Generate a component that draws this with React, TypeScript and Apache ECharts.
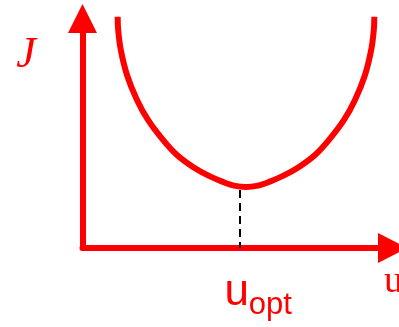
import React, { useEffect, useRef } from "react";
import * as echarts from "echarts";

// Curve J(u) (axis units: u 0..10, J 0..10)
const uValues = [
  1.135, 1.151, 1.235, 1.435, 1.758, 2.113, 2.597, 3.048, 3.564, 4.08, 4.532, 4.887, 5.274,
  5.661, 6.016, 6.468, 6.984, 7.5, 7.951, 8.435, 8.79, 9.113, 9.313, 9.397, 9.413,
];
const jValues = [
  10.08, 9.5, 8.63, 7.54, 6.45, 5.58, 4.71, 4.05, 3.53, 3.14, 2.88, 2.72, 2.66,
  2.72, 2.88, 3.14, 3.53, 4.05, 4.71, 5.58, 6.45, 7.54, 8.63, 9.5, 10.08,
];

// Optimum marker
const uOpt = 5.07;
const jOptTop = 2.53;
const jOptBottom = 0;

// Texts
const yName = "J";
const xName = "u";
const optMain = "u";
const optSub = "opt";

export default function App() {
  const ref = useRef<HTMLDivElement>(null);

  useEffect(() => {
    if (!ref.current) return;
    const chart = echarts.init(ref.current, undefined, { renderer: "svg" });
    const red = "#ff0000";
    const axisCommon = {
      type: "value" as const,
      min: 0,
      max: 10,
      axisTick: { show: false },
      axisLabel: { show: false },
      splitLine: { show: false },
    };
    chart.setOption({
      animation: false,
      grid: { left: 82.5, right: 6.5, top: 18.5, bottom: 79, containLabel: false },
      xAxis: {
        ...axisCommon,
        axisLine: {
          show: true,
          onZero: false,
          symbol: ["none", "triangle"],
          symbolSize: [30, 29],
          lineStyle: { color: red, width: 6 },
        },
      },
      yAxis: {
        ...axisCommon,
        axisLine: {
          show: true,
          onZero: false,
          symbol: ["none", "triangle"],
          symbolSize: [29, 29],
          lineStyle: { color: red, width: 6 },
        },
      },
      series: [
        {
          type: "line",
          data: uValues.map((u, i) => [u, jValues[i]]),
          smooth: 0.33,
          symbol: "none",
          clip: false,
          lineStyle: { color: red, width: 6, cap: "butt" },
          markLine: {
            silent: true,
            symbol: ["none", "none"],
            lineStyle: { color: "#000000", width: 2, type: [8, 5] },
            label: {
              show: true,
              position: "end",
              distance: 16,
              padding: [0, 0, 0, 37],
              formatter: "{u|" + optMain + "}{s|" + optSub + "}",
              rich: {
                u: { fontFamily: "Liberation Sans", fontSize: 44, color: red, lineHeight: 50 },
                s: { fontFamily: "Liberation Sans", fontSize: 31, color: red, lineHeight: 22, padding: [28, 0, 0, 0] },
              },
            },
            data: [[{ coord: [uOpt, jOptTop] }, { coord: [uOpt, jOptBottom] }]],
          },
        },
      ],
      graphic: [
        {
          type: "text",
          x: 26,
          y: 52,
          style: {
            text: yName,
            font: 'italic 44px "Liberation Serif"',
            fill: red,
            align: "center",
            verticalAlign: "middle",
          },
        },
        {
          type: "text",
          x: 384,
          y: 279,
          style: {
            text: xName,
            font: '38px "Liberation Serif"',
            fill: red,
            align: "left",
            verticalAlign: "middle",
          },
        },
      ],
    });
    return () => chart.dispose();
  }, []);

  return <div ref={ref} style={{ position: "fixed", left: 0, top: 0, width: 399, height: 327 }} />;
}
